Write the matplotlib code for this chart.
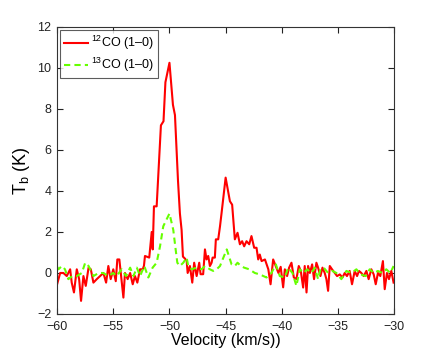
import matplotlib
matplotlib.use("Agg")
import matplotlib.pyplot as plt

plt.rcParams['font.family'] = ['Liberation Sans', 'DejaVu Sans']
plt.rcParams['mathtext.fontset'] = 'custom'
plt.rcParams['mathtext.rm'] = 'Liberation Sans'

# 12CO (1-0) spectrum: velocity (km/s) and brightness temperature (K)
v12 = [-60.0, -59.73, -59.44, -59.14, -58.84, -58.7, -58.5, -58.25, -58.04, -57.87,
       -57.66, -57.45, -57.2, -57.0, -56.77, -56.47, -56.18, -55.88, -55.64, -55.44,
       -55.23, -55.0, -54.78, -54.64, -54.46, -54.3, -54.1, -53.96, -53.72, -53.5,
       -53.27, -53.07, -52.86, -52.62, -52.38, -52.27, -52.18, -52.03, -51.8, -51.58,
       -51.49, -51.38, -51.14, -51.02, -50.76, -50.53, -50.36, -50.0, -49.69, -49.51,
       -49.24, -49.07, -48.92, -48.8, -48.62, -48.47, -48.38, -48.18, -47.97, -47.8,
       -47.58, -47.35, -47.23, -47.0, -46.84, -46.7, -46.55, -46.4, -46.25, -46.16,
       -45.96, -45.87, -45.66, -45.5, -45.36, -45.0, -44.62, -44.42, -44.18, -43.94,
       -43.73, -43.53, -43.35, -43.14, -42.9, -42.7, -42.46, -42.25, -42.1, -41.96,
       -41.8, -41.5, -41.2, -41.0, -40.77, -40.6, -40.3, -40.1, -39.88, -39.73,
       -39.53, -39.35, -39.14, -38.93, -38.7, -38.49, -38.31, -38.1, -37.96, -37.8,
       -37.66, -37.5, -37.3, -37.13, -36.92, -36.77, -36.56, -36.38, -36.18, -36.03,
       -35.88, -35.73, -35.53, -35.29, -35.08, -34.84, -34.6, -34.4, -34.2, -33.96,
       -33.75, -33.51, -33.3, -33.13, -32.92, -32.71, -32.47, -32.27, -32.03, -31.82,
       -31.64, -31.44, -31.23, -31.0, -30.84, -30.64, -30.46, -30.25, -30.05]
t12 = [-0.55, 0.0, 0.0, -0.15, 0.18, -0.47, -0.95, 0.18, -0.3, -1.36,
       -0.15, -0.63, 0.26, 0.18, -0.47, -0.3, -0.15, 0.0, -0.47, 0.34,
       -0.3, 0.18, -0.4, 0.66, 0.66, -0.15, -1.2, 0.0, -0.3, 0.0,
       -0.55, -0.15, -0.47, 0.18, 0.18, 0.35, 0.83, 0.8, 0.75, 2.0,
       1.15, 3.25, 3.25, 4.5, 7.2, 7.4, 9.3, 10.25, 8.2, 7.7,
       4.5, 2.9, 2.1, 0.8, 0.7, 0.6, 0.0, 0.34, -0.47, 0.5,
       -0.15, 0.5, -0.06, -0.06, 1.15, 0.66, 0.83, 0.34, 0.5, 0.75,
       0.75, 1.64, 1.64, 2.28, 2.93, 4.65, 3.5, 3.33, 1.64, 1.96,
       1.4, 1.55, 1.3, 1.55, 1.4, 1.8, 1.23, 1.23, 0.66, 0.9,
       0.58, 0.66, 0.18, -0.55, 0.66, 0.42, 0.0, 0.3, -0.7, 0.18,
       -0.15, 0.26, 0.5, -0.22, -0.3, 0.34, 0.1, -0.71, 0.34, -0.95,
       0.34, 0.0, 0.42, -0.3, 0.5, 0.26, -0.15, 0.26, 0.0, -0.3,
       -0.87, 0.34, 0.18, 0.0, -0.15, -0.07, -0.22, 0.0, -0.15, 0.1,
       -0.55, 0.1, -0.15, 0.1, 0.0, -0.15, 0.1, -0.3, 0.18, -0.07,
       -0.55, 0.0, -0.15, 0.58, -0.79, 0.0, -0.3, 0.1, -0.47]

# 13CO (1-0) spectrum
v13 = [-60.0, -59.88, -59.58, -59.3, -59.0, -58.64, -58.25, -57.8, -57.5, -57.2,
       -56.77, -56.3, -55.9, -55.44, -55.0, -54.7, -54.25, -53.87, -53.5, -53.2,
       -52.9, -52.62, -52.24, -51.88, -51.5, -51.14, -50.84, -50.55, -50.0, -49.66,
       -49.45, -49.3, -49.07, -48.77, -48.47, -48.33, -48.03, -47.58, -47.14, -46.84,
       -46.4, -46.1, -45.8, -45.5, -45.2, -44.9, -44.47, -44.18, -43.94, -43.64,
       -43.35, -42.9, -42.4, -41.96, -41.36, -40.92, -40.53, -40.18, -39.73, -39.44,
       -39.05, -38.7, -38.4, -38.04, -37.75, -37.36, -37.07, -36.77, -36.56, -36.27,
       -35.88, -35.5, -35.14, -34.7, -34.25, -33.8, -33.36, -32.98, -32.53, -32.18,
       -31.82, -31.44, -31.05, -30.7, -30.34, -30.05]
t13 = [0.3, 0.18, 0.34, 0.18, -0.3, -0.15, -0.15, 0.0, 0.5, 0.34,
       -0.15, 0.0, 0.0, -0.15, 0.0, -0.15, 0.18, -0.15, 0.26, -0.15,
       0.26, -0.15, 0.34, -0.22, 0.26, 0.5, 1.3, 2.28, 2.9, 2.1,
       1.15, 0.5, 0.34, 0.5, 0.75, 0.34, 0.18, 0.26, 0.18, 0.34,
       0.18, 0.1, 0.18, 0.34, 0.75, 1.15, 0.42, 0.34, 0.5, 0.34,
       0.26, 0.18, 0.0, -0.07, -0.22, 0.0, 0.42, -0.15, -0.22, 0.26,
       0.0, -0.63, 0.18, 0.0, 0.18, 0.0, 0.26, -0.3, 0.18, 0.26,
       0.0, 0.1, 0.0, -0.3, 0.1, 0.0, 0.18, -0.07, -0.15, 0.18,
       0.0, 0.1, 0.0, 0.18, 0.0, 0.34]

fig = plt.figure(figsize=(4.36, 3.54), dpi=100)
ax = fig.add_axes([0.131, 0.113, 0.773, 0.811])

ax.plot(v12, t12, color='#ff0000', lw=1.5, label='$^{12}$CO (1\u20130)')
ax.plot(v13, t13, color='#66ff00', lw=1.5, ls=(0, (3.0, 2.0)), label='$^{13}$CO (1\u20130)')

ax.set_xlim(-60, -30)
ax.set_ylim(-2, 12)
ax.set_xticks([-60, -55, -50, -45, -40, -35, -30])
ax.set_yticks([-2, 0, 2, 4, 6, 8, 10, 12])
ax.tick_params(direction='in', length=4, width=0.8, labelsize=9, colors='#222222',
               top=True, right=True)
ax.tick_params(axis='x', pad=5)
ax.tick_params(axis='y', pad=4)
for s in ax.spines.values():
    s.set_color('#333333')
    s.set_linewidth(0.8)

ax.set_xlabel('Velocity (km/s))', fontsize=11.5, labelpad=0)
ax.set_ylabel('T$_{\\rm b}$ (K)', fontsize=13, labelpad=4)

leg = ax.legend(loc='upper left', fontsize=9, frameon=True, fancybox=False,
                edgecolor='#333333', borderaxespad=0.25, handlelength=1.9,
                handletextpad=0.3, borderpad=0.3, labelspacing=0.3)
leg.get_frame().set_linewidth(0.8)

fig.savefig('out.png', dpi=100)
